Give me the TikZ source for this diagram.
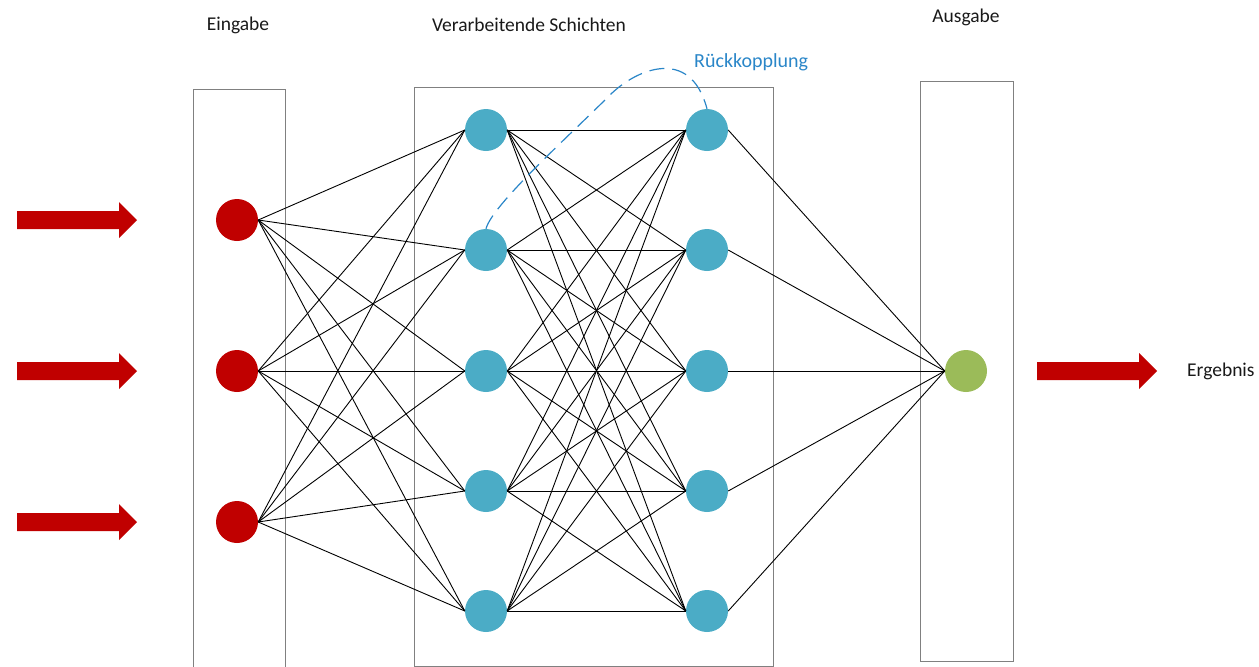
\documentclass[tikz,border=0pt]{standalone}
\usepackage{fontspec}
\setmainfont{Carlito}
\begin{document}
\begin{tikzpicture}[x=1pt,y=-1pt,
  layerbox/.style={draw=black!50,line width=0.9pt},
  neuron/.style={circle,minimum size=42pt,inner sep=0pt},
  innode/.style={neuron,fill=inred},
  hidnode/.style={neuron,fill=hidteal},
  outnode/.style={neuron,fill=outgreen},
  link/.style={draw=black,line width=0.9pt},
  feedback/.style={draw=fbblue,line width=1.2pt,dash pattern=on 15pt off 8pt},
  caption/.style={font=\fontsize{19.5}{22}\selectfont,text=black!90,inner sep=0pt},
  bigarrow/.pic={\fill[inred] (0,-9) -- (102,-9) -- (102,-18) -- (120,0)
                 -- (102,18) -- (102,9) -- (0,9) -- cycle;}]
\definecolor{inred}{HTML}{C00000}
\definecolor{hidteal}{HTML}{4BACC6}
\definecolor{outgreen}{HTML}{9BBB59}
\definecolor{fbblue}{HTML}{2A86C8}
\useasboundingbox (0,0) rectangle (1259,667);

% layer frames
\draw[layerbox] (193,680) -- (193,89) -- (285,89) -- (285,680);
\draw[layerbox] (414,87) rectangle (773,666);
\draw[layerbox] (920,81) rectangle (1013,661);

% captions
\node[caption] (lin) at (238,25) {Eingabe};
\node[caption] (lhid) at (529,25) {Verarbeitende Schichten};
\node[caption] (lout) at (966,17) {Ausgabe};
\node[caption,anchor=west] (lres) at (1187,371) {Ergebnis};

% neurons
\foreach \i/\y in {1/220,2/371,3/522}
  \node[innode] (i\i) at (237,\y) {};
\foreach \i/\y in {1/130,2/250,3/371,4/491,5/611}{
  \node[hidnode] (a\i) at (486,\y) {};
  \node[hidnode] (b\i) at (707,\y) {};
}
\node[outnode] (o) at (966,371) {};

% weighted connections
\foreach \i in {1,2,3}
  \foreach \j in {1,...,5}
    \draw[link] (i\i.east) -- (a\j.west);
\foreach \i in {1,...,5}
  \foreach \j in {1,...,5}
    \draw[link] (a\i.east) -- (b\j.west);
\foreach \j in {1,...,5}
  \draw[link] (b\j.east) -- (o.west);

% feedback loop
\draw[feedback] (a2.north) .. controls (492,205) and (570,135) .. (610,95)
  .. controls (635,70) and (690,45) .. (b1.north);
\node[font=\fontsize{20}{22}\selectfont,text=fbblue,inner sep=0pt,anchor=west] (fb) at (694,62) {Rückkopplung};

% input and output flows
\pic at (17,220) {bigarrow};
\pic at (17,371) {bigarrow};
\pic at (17,522) {bigarrow};
\pic at (1037,371) {bigarrow};
\end{tikzpicture}
\end{document}
